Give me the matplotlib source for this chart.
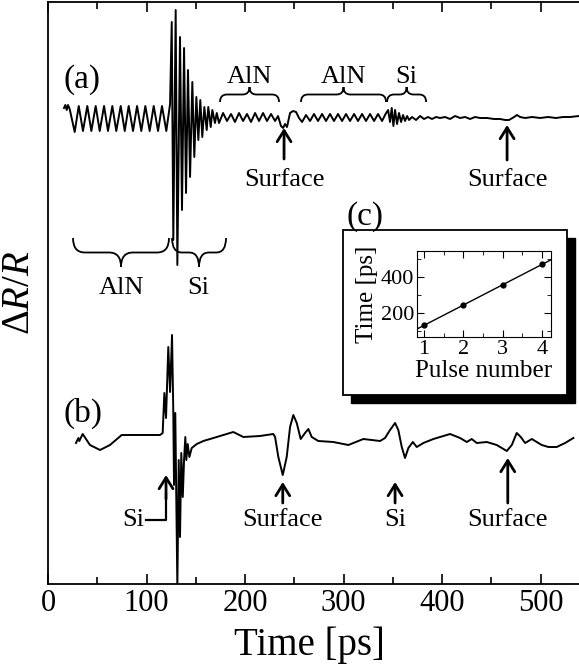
import numpy as np
import matplotlib
matplotlib.use("Agg")
import matplotlib.pyplot as plt
from matplotlib.path import Path
from matplotlib.patches import PathPatch, Rectangle
from matplotlib.ticker import MultipleLocator

plt.rcParams['font.family'] = 'Liberation Serif'
plt.rcParams['mathtext.fontset'] = 'custom'
plt.rcParams['mathtext.rm'] = 'Liberation Serif'
plt.rcParams['mathtext.it'] = 'Liberation Serif:italic'

#%% trace (a), time in ps, dR/R in arb. units
t_a = [16.2, 17.6, 19.0, 20.3, 22.0,
       27.1, 31.2, 35.5, 39.9, 44.0, 48.4, 52.5, 56.9, 60.9, 65.3, 69.3, 73.8,
       77.9, 81.9, 86.3, 90.4, 94.7, 98.8, 103.2, 107.3, 111.7, 115.7, 120.1,
       123.9, 125.6, 127.2, 129.6, 131.3, 134.0, 136.0, 138.1, 140.1, 142.1,
       144.2, 146.5, 148.5, 150.6, 152.6, 154.6, 156.6, 158.7, 161.1, 162.7,
       165.2, 166.8, 169.5, 171.3,
       173.6, 177.7, 181.7, 185.8, 189.8, 193.9, 198.0, 202.0, 206.1, 210.2,
       214.2, 218.3, 222.3, 226.4, 230.5, 233.5,
       236.5, 238.6, 240.6, 242.6, 245.7, 248.7, 251.8, 254.8,
       257.9, 261.9, 266.0, 270.0, 274.1, 278.2, 282.2, 286.3, 290.3, 294.4,
       298.5, 302.5, 306.6, 310.7, 314.7, 318.8, 322.8, 326.9, 331.0, 335.0,
       339.1, 342.1,
       345.2, 347.2, 348.9, 350.6, 352.3, 354.3, 356.3, 358.4, 360.4, 362.4,
       364.5, 366.5,
       369.5, 373.6, 377.7, 381.7, 385.8, 389.8, 393.9, 398.0, 403.0, 408.1,
       413.2, 418.3, 423.4, 428.4, 433.5, 438.6, 445.7, 452.8, 458.9, 464.0,
       468.0, 473.1, 476.1, 479.2, 484.3, 491.4, 499.5, 507.6, 515.7, 522.8,
       529.9, 539.0]
r_a = [4.76, 4.79, 4.74, 4.79, 4.75,
       4.52, 4.78, 4.53, 4.78, 4.53, 4.78, 4.53, 4.78, 4.53, 4.78, 4.53, 4.78,
       4.53, 4.78, 4.53, 4.78, 4.53, 4.78, 4.53, 4.78, 4.53, 4.78, 4.53,
       4.80, 5.62, 3.44, 5.74, 3.19, 5.47, 3.74, 5.36, 3.91, 5.14,
       4.07, 5.02, 4.27, 4.87, 4.44, 4.84, 4.47, 4.77, 4.54, 4.77,
       4.57, 4.74, 4.61, 4.71,
       4.61, 4.71, 4.63, 4.70, 4.62, 4.71, 4.63, 4.70, 4.62, 4.71,
       4.63, 4.71, 4.63, 4.70, 4.63, 4.68,
       4.58, 4.56, 4.60, 4.57, 4.71, 4.73, 4.72, 4.66,
       4.62, 4.69, 4.63, 4.70, 4.63, 4.70, 4.63, 4.70, 4.63, 4.70,
       4.63, 4.70, 4.63, 4.70, 4.63, 4.70, 4.63, 4.70, 4.63, 4.70,
       4.63, 4.69,
       4.74, 4.62, 4.76, 4.58, 4.74, 4.60, 4.71, 4.62, 4.69, 4.63,
       4.68, 4.64,
       4.67, 4.64, 4.68, 4.65, 4.67, 4.65, 4.67, 4.66, 4.67, 4.65,
       4.68, 4.66, 4.67, 4.65, 4.67, 4.66, 4.66, 4.65, 4.65, 4.64,
       4.64, 4.67, 4.69, 4.67, 4.66, 4.67, 4.66, 4.67, 4.66, 4.67,
       4.67, 4.68]

#%% trace (b)
t_b = [28.4, 30.8, 31.8, 35.2, 42.6, 52.8, 62.9, 74.8, 93.4, 113.7,
       116.4, 118.1, 119.8, 122.1, 123.9, 125.9, 127.2, 127.9, 129.2, 131.3,
       132.7, 134.0, 135.3, 136.8, 138.1, 139.4, 140.4, 141.8, 143.5, 145.9,
       151.0, 157.7, 171.3, 188.1, 198.3, 215.2, 228.7,
       230.5, 233.8, 238.3, 242.3, 245.7, 249.0, 252.5, 256.5, 260.9, 264.3,
       267.7, 274.4, 289.6, 304.9, 320.1, 337.1, 342.1, 347.2, 352.3, 355.6,
       359.1, 362.4, 365.8, 370.3, 374.3, 381.0, 391.2, 408.1, 418.3, 425.1,
       430.1, 435.2, 445.4, 455.5, 465.7, 470.8, 475.8, 479.9, 484.3, 491.1,
       496.1, 501.2, 507.9, 516.4, 524.9, 533.3]
r_b = [1.41, 1.46, 1.43, 1.50, 1.39, 1.34, 1.39, 1.49, 1.49, 1.49,
       1.51, 1.91, 1.66, 2.37, 1.92, 2.49, 1.71, 0.99, 1.71, -0.03,
       1.24, 0.47, 1.31, 0.87, 1.24, 1.47, 1.24, 1.40, 1.27, 1.36,
       1.40, 1.43, 1.47, 1.52, 1.47, 1.48, 1.50,
       1.47, 1.27, 1.09, 1.27, 1.57, 1.69, 1.61, 1.45, 1.51, 1.55,
       1.47, 1.43, 1.42, 1.39, 1.45, 1.43, 1.46, 1.54, 1.61, 1.54,
       1.37, 1.26, 1.36, 1.42, 1.37, 1.41, 1.45, 1.50, 1.46, 1.42,
       1.45, 1.41, 1.42, 1.39, 1.33, 1.39, 1.51, 1.47, 1.41, 1.45,
       1.42, 1.39, 1.37, 1.37, 1.41, 1.46]

#%% inset (c)
pulse = [1, 2, 3, 4]
echo_time = [133, 245, 359, 471]


def brace(ax, x0, x1, ytip, ypoint, c=8):
    # curly brace from x0 to x1, ends at ytip, middle cusp at ypoint
    xm = (x0 + x1) / 2.
    yb = (ytip + ypoint) / 2.
    verts = [(x0, ytip), (x0, yb), (x0 + c, yb), (xm - c, yb), (xm, yb), (xm, ypoint),
             (xm, yb), (xm + c, yb), (x1 - c, yb), (x1, yb), (x1, ytip)]
    codes = [Path.MOVETO, Path.CURVE3, Path.CURVE3, Path.LINETO, Path.CURVE3, Path.CURVE3,
             Path.CURVE3, Path.CURVE3, Path.LINETO, Path.CURVE3, Path.CURVE3]
    ax.add_patch(PathPatch(Path(verts, codes), fc='none', ec='k', lw=1.3, clip_on=False))


def arrow(ax, x, ytip, ytail):
    ax.annotate('', xy=(x, ytip), xytext=(x, ytail),
                arrowprops=dict(arrowstyle='->,head_length=0.4,head_width=0.25',
                                lw=2.0, color='k', shrinkA=0, shrinkB=0,
                                mutation_scale=20))


fig = plt.figure(figsize=(5.79, 6.70), dpi=100)
ax = fig.add_axes([48/579, 86/670, 531/579, 582.5/670])
ax.plot(t_a, r_a, color='k', lw=1.4)
ax.plot(t_b, r_b, color='k', lw=1.4)
ax.set_xlim(0, 539)
ax.set_ylim(0, 5.825)
ax.set_yticks([])
ax.set_xticks([0, 100, 200, 300, 400, 500])
ax.xaxis.set_minor_locator(MultipleLocator(50))
ax.tick_params(axis='x', which='both', direction='in', top=True, width=1.2, labelsize=22)
ax.tick_params(axis='x', which='major', length=7)
ax.tick_params(axis='x', which='minor', length=5)
ax.spines['right'].set_visible(False)
for s in ['left', 'bottom', 'top']:
    ax.spines[s].set_linewidth(1.3)

fig.text(20/579, 1-293/670, 'Δ$\\mathit{R}$/$\\mathit{R}$', fontsize=28, rotation=90,
         ha='center', va='center')
fig.text(309/579, 1-645/670, 'Time [ps]', fontsize=28, ha='center', va='center')

#labels (a)
fs = 19
ax.text(34.5, 5.04, '(a)', fontsize=24, ha='center', va='center')
ax.text(35.5, 1.71, '(b)', fontsize=24, ha='center', va='center')

brace(ax, 174.6, 234.5, 4.82, 4.97, c=7)
ax.text(204.5, 5.07, 'AlN', fontsize=fs, ha='center', va='center')
brace(ax, 256.8, 343.1, 4.82, 4.97, c=7)
ax.text(300, 5.07, 'AlN', fontsize=fs, ha='center', va='center')
brace(ax, 344.2, 383.8, 4.82, 4.97, c=7)
ax.text(364, 5.07, 'Si', fontsize=fs, ha='center', va='center')

brace(ax, 25.4, 122.8, 3.46, 3.17, c=12)
ax.text(75, 2.96, 'AlN', fontsize=fs, ha='center', va='center')
brace(ax, 125.9, 180.7, 3.46, 3.17, c=10)
ax.text(153, 2.96, 'Si', fontsize=fs, ha='center', va='center')

arrow(ax, 239.6, 4.56, 4.25)
ax.text(239.6, 4.04, 'Surface', fontsize=fs, ha='center', va='center')
arrow(ax, 466, 4.59, 4.24)
ax.text(466, 4.04, 'Surface', fontsize=fs, ha='center', va='center')

#labels (b)
ax.plot([99.5, 119.8, 119.8], [0.64, 0.64, 0.9], color='k', lw=1.6)
arrow(ax, 119.8, 1.09, 0.85)
ax.text(86.6, 0.64, 'Si', fontsize=fs, ha='center', va='center')
arrow(ax, 238.3, 1.02, 0.81)
ax.text(238.3, 0.64, 'Surface', fontsize=fs, ha='center', va='center')
arrow(ax, 352.3, 1.02, 0.81)
ax.text(352.3, 0.64, 'Si', fontsize=fs, ha='center', va='center')
arrow(ax, 466.7, 1.26, 0.81)
ax.text(466.7, 0.64, 'Surface', fontsize=fs, ha='center', va='center')

#%% inset with shadow box
fig.add_artist(Rectangle((351/579, 1-403/670), 224/579, 165/670, transform=fig.transFigure,
                         fc='k', ec='k', zorder=2))
fig.add_artist(Rectangle((343/579, 1-395/670), 224/579, 165/670, transform=fig.transFigure,
                         fc='w', ec='k', lw=1.3, zorder=3))
fig.text(365/579, 1-217/670, '(c)', fontsize=24, ha='center', va='center')

axin = fig.add_axes([417/579, 1-337/670, 134/579, 86/670])
axin.set_zorder(5)
p = np.polyfit(pulse, echo_time, 1)
xl = np.array([0.82, 4.23])
axin.plot(xl, np.polyval(p, xl), color='k', lw=1.0)
axin.plot(pulse, echo_time, 'ko', ms=3.5)
axin.set_xlim(0.82, 4.23)
axin.set_ylim(68, 546)
axin.set_xticks([1, 2, 3, 4])
axin.set_yticks([200, 400])
axin.xaxis.set_minor_locator(MultipleLocator(0.5))
axin.yaxis.set_minor_locator(MultipleLocator(100))
axin.tick_params(which='both', direction='in', top=True, right=True, labelsize=16, pad=2)
axin.tick_params(which='major', length=5)
axin.tick_params(which='minor', length=3)
axin.set_xlabel('Pulse number', fontsize=18, labelpad=1)
axin.set_ylabel('Time [ps]', fontsize=18, labelpad=2)

fig.savefig('out.png', dpi=100)
